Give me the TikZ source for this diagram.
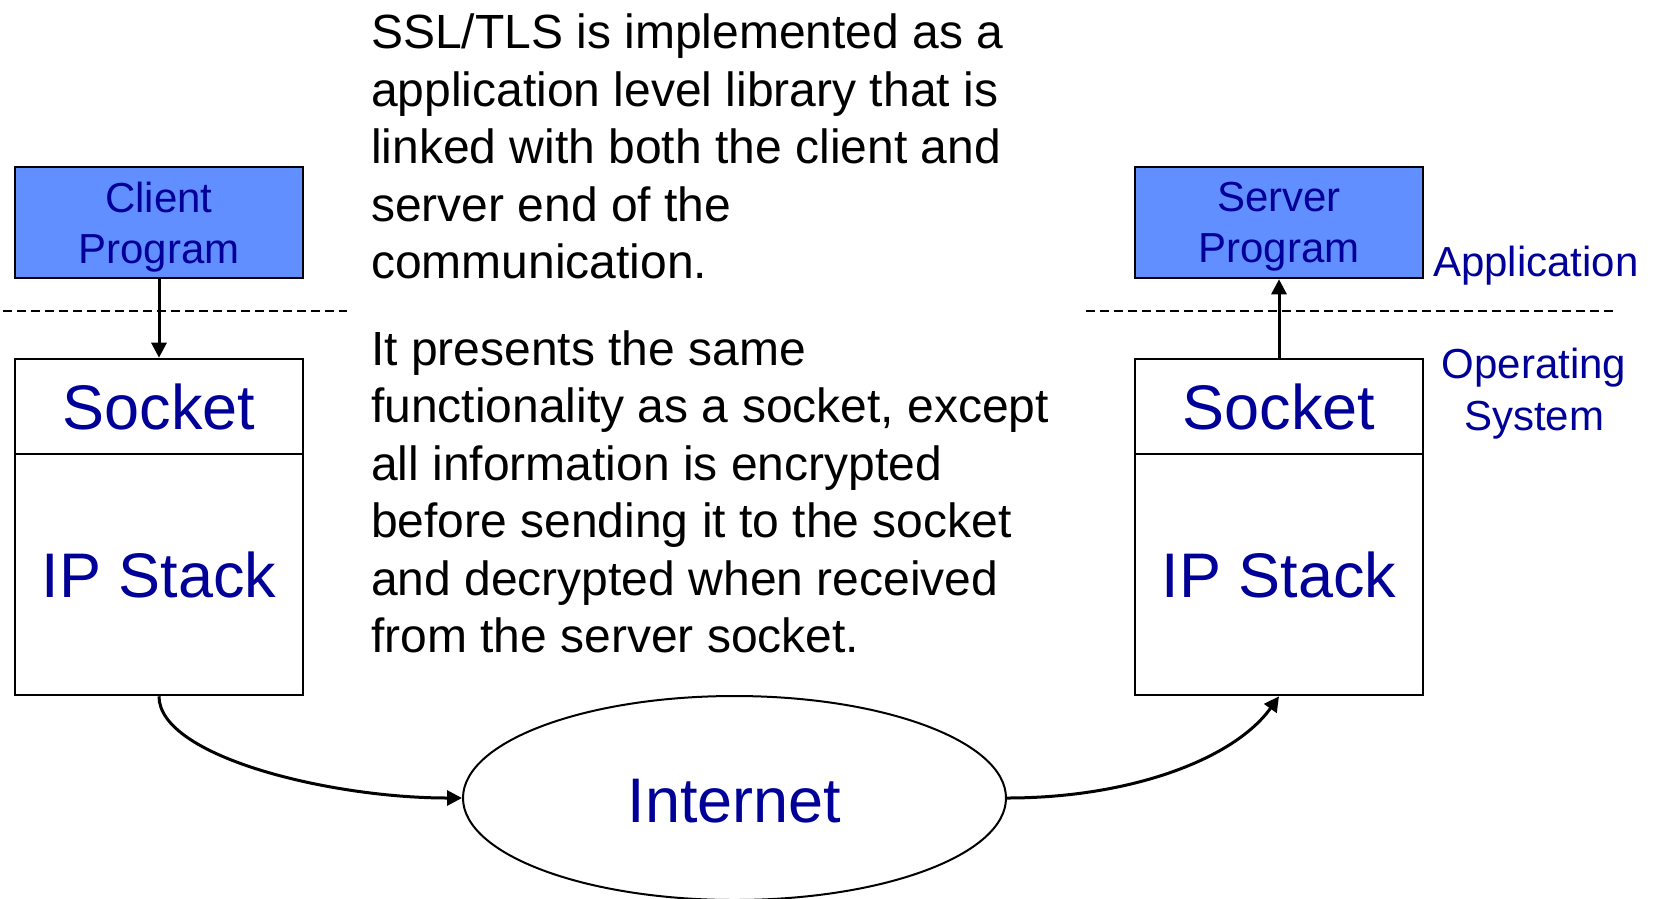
\documentclass[tikz,border=0pt]{standalone}
\usepackage{fontspec}
\setmainfont{Liberation Sans}
\usetikzlibrary{shapes.geometric,arrows.meta}
\definecolor{labelblue}{RGB}{0,0,153}
\definecolor{progfill}{RGB}{97,143,255}
\begin{document}
\begin{tikzpicture}[x=1pt,y=-1pt,
  box/.style={draw, line width=2.6pt, minimum width=288pt, inner sep=0pt,
    text=labelblue, font=\fontsize{63}{75}\selectfont},
  progbox/.style={box, fill=progfill, minimum height=111pt, align=center,
    text depth=0pt, font=\fontsize{42}{51}\selectfont},
  para/.style={inner sep=0pt, anchor=base west, font=\fontsize{48}{57.5}\selectfont},
  side/.style={inner sep=0pt, anchor=base, text=labelblue, font=\fontsize{42}{51}\selectfont},
  conn/.style={draw, line width=3pt, -{Triangle[length=15pt,width=15pt]}},
  layerline/.style={draw, line width=1.8pt, dash pattern=on 9pt off 5pt}]
\useasboundingbox (0,0) rectangle (1653,898);

% client side
\node[progbox] (client) at (159,222.5) {Client\\Program};
\node[box, minimum height=95pt] (socketL) at (159,406.5) {Socket};
\node[box, minimum height=241pt] (stackL) at (159,574.5) {\raisebox{-3pt}{IP Stack}};

% server side
\node[progbox] (server) at (1279,222.5) {Server\\Program};
\node[box, minimum height=95pt] (socketR) at (1279,406.5) {Socket};
\node[box, minimum height=241pt] (stackR) at (1279,574.5) {\raisebox{-3pt}{IP Stack}};

% the network
\node[ellipse, draw, line width=2pt, minimum width=543pt, minimum height=204pt,
  inner sep=0pt, text=labelblue, text depth=0pt, font=\fontsize{63}{75}\selectfont]
  (internet) at (734.5,798) {\raisebox{-6pt}{Internet}};

% application / operating system boundary
\draw[layerline] (3,311) -- (347,311);
\draw[layerline] (1086,311) -- (1613,311);
\node[side, anchor=base west] (app) at (1433,276) {Application};
\node[side] (os1) at (1534,378) {Operating};
\node[side] (os2) at (1534,430) {System};

% explanatory text
\foreach \t [count=\i] in {SSL/TLS is implemented as a,
    application level library that is,
    linked with both the client and,
    server end of the,
    communication.}
  \node[para] (pa\i) at (371,{48.5+57.5*(\i-1)}) {\t};
\foreach \t [count=\i] in {It presents the same,
    {functionality as a socket, except},
    all information is encrypted,
    before sending it to the socket,
    and decrypted when received,
    from the server socket.}
  \node[para] (pb\i) at (371,{365+57.5*(\i-1)}) {\t};

% data flow
\draw[conn] (client.south) -- (socketL.north);
\draw[conn] (socketR.north) -- (server.south);
\draw[conn] (stackL.south) .. controls +(0,60) and +(-133,0) .. (internet.west);
\draw[conn] (internet.east) .. controls +(123,0) and +(-45,63) .. (stackR.south);
\end{tikzpicture}
\end{document}
